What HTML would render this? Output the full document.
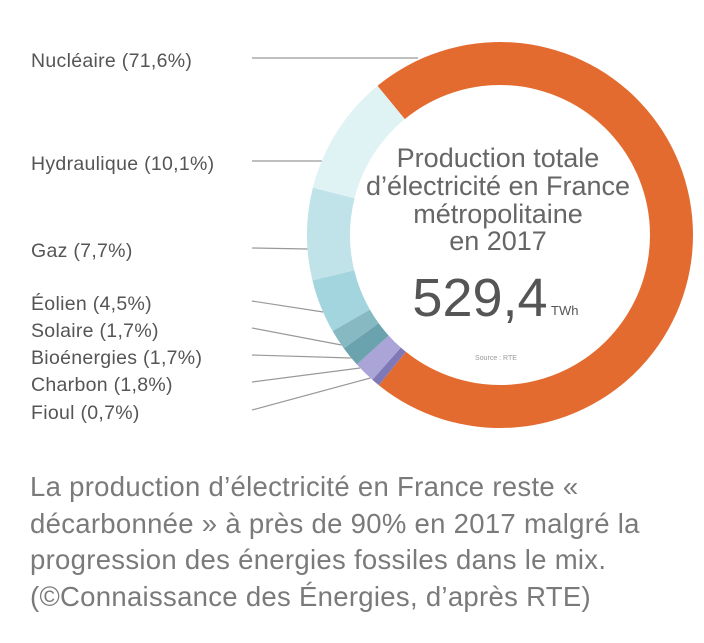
<!DOCTYPE html>
<html><head><meta charset="utf-8"><style>
body{margin:0;background:#fff;width:704px;height:643px;overflow:hidden;font-family:"Liberation Sans",sans-serif}
svg{position:absolute;left:0;top:0}
.cap{position:absolute;left:30px;top:469px;font-size:27.5px;line-height:36.7px;color:#7a7a7a;width:690px;white-space:nowrap;letter-spacing:0.3px}
</style></head><body>
<svg width="704" height="643">
<g id="slices"></g>
<g id="leaders" stroke="#999" stroke-width="1.2" fill="none"></g>
<g id="labels" font-size="19.5" fill="#555" letter-spacing="0.3"></g>
<g text-anchor="middle" fill="#666">
<text x="498" y="167" font-size="27">Production totale</text>
<text x="498" y="195" font-size="27">d’électricité en France</text>
<text x="498" y="223" font-size="27">métropolitaine</text>
<text x="498" y="250" font-size="27">en 2017</text>
</g>
<text x="480" y="316" font-size="54" fill="#555" text-anchor="middle">529,4</text>
<text x="551" y="315" font-size="13" fill="#555">TWh</text>
<text x="496" y="360" font-size="7" fill="#999" text-anchor="middle">Source : RTE</text>
</svg>
<div class="cap">La production d’électricité en France reste «<br>décarbonnée » à près de 90% en 2017 malgré la<br>progression des énergies fossiles dans le mix.<br>(©Connaissance des Énergies, d’après RTE)</div>
<script>
const categories=["Nucléaire","Fioul","Charbon","Bioénergies","Solaire","Éolien","Gaz","Hydraulique"];
const values=[71.6,0.7,1.8,1.7,1.7,4.5,7.7,10.1];
const labelsText=["71,6%","0,7%","1,8%","1,7%","1,7%","4,5%","7,7%","10,1%"];
const colors=["#e46b30","#8079b8","#aaa5d6","#6aa3ad","#86b9c2","#a3d5df","#bfe3e8","#dff2f4"];
const cx=500,cy=235,R=193,r=150,startDeg=320.6;
const ns="http://www.w3.org/2000/svg";
const total=values.reduce((a,b)=>a+b,0);
function pt(deg,rad){const a=deg*Math.PI/180;return [cx+rad*Math.sin(a),cy-rad*Math.cos(a)];}
let acc=startDeg;
const g=document.getElementById('slices');
values.forEach((v,i)=>{
 const sweep=v/total*360, a0=acc, a1=acc+sweep; acc=a1;
 const p0=pt(a0,R),p1=pt(a1,R),p2=pt(a1,r),p3=pt(a0,r),lg=sweep>180?1:0;
 const p=document.createElementNS(ns,'path');
 p.setAttribute('d',`M${p0}A${R},${R} 0 ${lg} 1 ${p1}L${p2}A${r},${r} 0 ${lg} 0 ${p3}Z`);
 p.setAttribute('fill',colors[i]);
 
 
 g.appendChild(p);
});
const labelY=[60,412,384,357,330,303,250,163];
const endY=[58,378,368,358,345,312,249,161];
const lg2=document.getElementById('leaders'),lb=document.getElementById('labels');
categories.forEach((c,i)=>{
 const ey=endY[i];
 const ex=i===0?418:cx-Math.sqrt(R*R-(ey-cy)*(ey-cy));
 const l=document.createElementNS(ns,'line');
 l.setAttribute('x1',252);l.setAttribute('y1',labelY[i]-2);
 l.setAttribute('x2',ex);l.setAttribute('y2',ey);
 
 
 lg2.appendChild(l);
 const t=document.createElementNS(ns,'text');
 t.setAttribute('x',31);t.setAttribute('y',labelY[i]+7);
 t.textContent=c+' ('+labelsText[i]+')';
 
 
 lb.appendChild(t);
});
</script>
</body></html>
